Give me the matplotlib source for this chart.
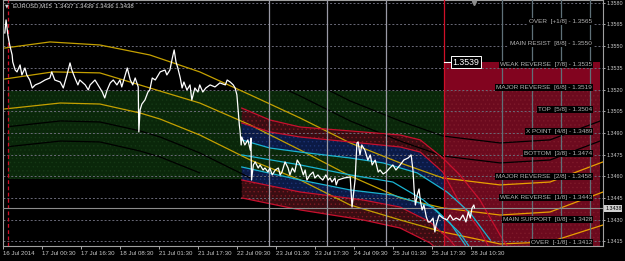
import numpy as np
import matplotlib
matplotlib.use('Agg')
import matplotlib.pyplot as plt
from matplotlib.transforms import blended_transform_factory, offset_copy

plt.rcParams['font.family'] = ['Liberation Sans', 'DejaVu Sans']
plt.rcParams['hatch.linewidth'] = 0.5

# ── data (x = M15 bar index from 16 Jul 08:30, y = price) ──────────
price_pts = [
    (3, 1.35591), (5, 1.35681), (8, 1.35577), (11, 1.35508), (15, 1.35439), (16, 1.35391),
    (20, 1.35335), (23, 1.35322), (28, 1.35370), (31, 1.35301), (36, 1.35349), (39, 1.35301),
    (44, 1.35266), (48, 1.35211), (53, 1.35232), (61, 1.35246), (69, 1.35266), (77, 1.35280),
    (80, 1.35322), (85, 1.35266), (94, 1.35252), (99, 1.35211), (105, 1.35301), (110, 1.35384),
    (113, 1.35335), (118, 1.35280), (123, 1.35232), (126, 1.35266), (135, 1.35232), (140, 1.35197),
    (143, 1.35232), (151, 1.35266), (156, 1.35232), (163, 1.35183), (167, 1.35142), (171, 1.35197),
    (176, 1.35246), (181, 1.35266), (187, 1.35232), (192, 1.35266), (195, 1.35218), (204, 1.35349),
    (209, 1.35266), (213, 1.35232), (217, 1.35280), (222, 1.35218), (223, 1.34907), (225, 1.35059),
    (228, 1.35100), (233, 1.35128), (238, 1.35183), (241, 1.35197), (245, 1.35280), (250, 1.35266),
    (255, 1.35301), (258, 1.35322), (266, 1.35335), (269, 1.35301), (274, 1.35335), (278, 1.35418),
    (281, 1.35474), (284, 1.35391), (287, 1.35349), (291, 1.35280), (294, 1.35211), (297, 1.35252),
    (302, 1.35197), (307, 1.35232), (310, 1.35128), (315, 1.35211), (320, 1.35183), (323, 1.35232),
    (328, 1.35183), (333, 1.35211), (340, 1.35232), (348, 1.35218), (356, 1.35246), (365, 1.35232),
    (368, 1.35266), (373, 1.35252), (378, 1.35232), (381, 1.35211), (384, 1.35163), (386, 1.35059),
    (388, 1.34955), (389, 1.34921), (391, 1.34817), (392, 1.34872), (397, 1.34817), (402, 1.34852),
    (406, 1.34782), (407, 1.34865), (408, 1.34575), (411, 1.34679), (414, 1.34700), (419, 1.34658),
    (422, 1.34679), (427, 1.34644), (430, 1.34658), (435, 1.34630), (438, 1.34658), (442, 1.34610),
    (447, 1.34644), (452, 1.34658), (455, 1.34610), (458, 1.34630), (463, 1.34700), (468, 1.34658),
    (471, 1.34610), (475, 1.34658), (479, 1.34630), (483, 1.34713), (488, 1.34679), (493, 1.34610),
    (496, 1.34644), (499, 1.34575), (504, 1.34610), (509, 1.34630), (512, 1.34589), (517, 1.34610),
    (521, 1.34589), (525, 1.34575), (530, 1.34610), (534, 1.34575), (537, 1.34589), (540, 1.34561),
    (545, 1.34589), (547, 1.34541), (550, 1.34575), (560, 1.34589), (570, 1.34596), (573, 1.34388),
    (578, 1.34575), (581, 1.34831), (583, 1.34838), (586, 1.34748), (589, 1.34817), (594, 1.34782),
    (599, 1.34713), (603, 1.34748), (606, 1.34679), (611, 1.34713), (616, 1.34630), (619, 1.34644),
    (624, 1.34617), (629, 1.34630), (635, 1.34658), (640, 1.34679), (645, 1.34644), (652, 1.34679),
    (658, 1.34713), (665, 1.34727), (670, 1.34748), (673, 1.34644), (675, 1.34506), (677, 1.34402),
    (680, 1.34471), (683, 1.34513), (685, 1.34437), (688, 1.34368), (691, 1.34402), (695, 1.34319),
    (698, 1.34285), (701, 1.34285), (706, 1.34312), (709, 1.34216), (711, 1.34264), (716, 1.34333),
    (722, 1.34312), (729, 1.34299), (734, 1.34333), (739, 1.34299), (744, 1.34312), (750, 1.34299),
    (755, 1.34333), (760, 1.34285), (764, 1.34354), (767, 1.34312), (770, 1.34382), (773, 1.34402),
    (774, 1.34382),
]

# polynomial regression channel (gold), projected part drawn orange
u1 = [(3, 1.35487), (77, 1.35529), (159, 1.35508), (241, 1.35439), (323, 1.35322), (406, 1.35163),
      (488, 1.35003), (570, 1.34831), (652, 1.34693), (722, 1.34589), (816, 1.34541), (898, 1.34561),
      (985, 1.34700)]
u2 = [(3, 1.35273), (82, 1.35322), (159, 1.35315), (241, 1.35211), (323, 1.35107), (406, 1.34955),
      (488, 1.34782), (570, 1.34603), (652, 1.34451), (722, 1.34382), (816, 1.34333), (898, 1.34354),
      (985, 1.34492)]
u3 = [(3, 1.35066), (94, 1.35107), (159, 1.35100), (225, 1.35038), (258, 1.34996), (323, 1.34886),
      (406, 1.34713), (488, 1.34575), (570, 1.34402), (652, 1.34299), (722, 1.34216), (816, 1.34133),
      (898, 1.34147), (985, 1.34264)]
# black channel lines (only seen on the coloured zones)
k1 = [(406, 1.35315), (488, 1.35155), (570, 1.34983), (652, 1.34844), (722, 1.34741), (816, 1.34693),
      (898, 1.34713), (985, 1.34852)]
k2 = [(488, 1.35294), (570, 1.35121), (652, 1.34983), (722, 1.34879), (816, 1.34831), (898, 1.34852),
      (985, 1.34990)]
k3 = [(3, 1.34941), (94, 1.34983), (159, 1.34976), (225, 1.34914), (258, 1.34872), (323, 1.34762),
      (406, 1.34589)]
k4 = [(3, 1.34803), (94, 1.34844), (159, 1.34838), (225, 1.34775), (258, 1.34734), (323, 1.34624)]

# band system after the 22 Jul drop
r1 = [(392, 1.35072), (438, 1.34990), (488, 1.34941), (570, 1.34914), (652, 1.34886), (685, 1.34852),
      (722, 1.34727), (750, 1.34610), (783, 1.34437), (816, 1.34195), (832, 1.34091)]
r2 = [(392, 1.34969), (438, 1.34907), (488, 1.34872), (570, 1.34838), (652, 1.34803), (685, 1.34768),
      (722, 1.34630), (747, 1.34437), (783, 1.34229), (800, 1.34091)]
c1 = [(392, 1.34852), (438, 1.34796), (488, 1.34768), (570, 1.34727), (624, 1.34693), (680, 1.34624),
      (729, 1.34492), (767, 1.34347), (800, 1.34160)]
cm = [(392, 1.34748), (488, 1.34679), (570, 1.34610), (640, 1.34561), (690, 1.34437), (734, 1.34278),
      (759, 1.34126)]
c2 = [(392, 1.34665), (488, 1.34575), (570, 1.34506), (640, 1.34471), (706, 1.34388), (750, 1.34209),
      (767, 1.34105)]
r3 = [(392, 1.34575), (488, 1.34492), (591, 1.34437), (652, 1.34388), (701, 1.34285), (734, 1.34160),
      (747, 1.34091)]
r4 = [(392, 1.34451), (488, 1.34368), (591, 1.34299), (652, 1.34243), (701, 1.34140), (718, 1.34077)]

# Murrey math levels
mm_names = ["OVER  [+1/8]", "MAIN RESIST  [8/8]", "WEAK REVERSE  [7/8]", "MAJOR REVERSE  [6/8]",
            "TOP  [5/8]", "X POINT  [4/8]", "BOTTOM  [3/8]", "MAJOR REVERSE  [2/8]",
            "WEAK REVERSE  [1/8]", "MAIN SUPPORT  [0/8]", "OVER  [-1/8]"]
mm_levels = [1.3565, 1.3550, 1.3535, 1.3519, 1.3504, 1.3489, 1.3474, 1.3458, 1.3443, 1.3428, 1.3412]

y_ticks = [1.3415 + 0.0015 * i for i in range(12)]
x_ticks = [0, 64, 128, 192, 256, 320, 384, 448, 512, 576, 640, 704, 768]
x_labels = ["16 Jul 2014", "17 Jul 00:30", "17 Jul 16:30", "18 Jul 08:30", "21 Jul 01:30",
            "21 Jul 17:30", "22 Jul 09:30", "23 Jul 01:30", "23 Jul 17:30", "24 Jul 09:30",
            "25 Jul 01:30", "25 Jul 17:30", "28 Jul 10:30"]

gray_vlines = [437, 532, 629]
slate_vlines = [819, 869, 916, 964]
now_bar = 724
start_bar = 8
last_price = 1.3438
zone_top = 1.3539
green_zone = (1.3458, 1.3519)
ohlc = "EURUSD,M15  1.3437 1.3439 1.3436 1.3438"


def xy(pts):
    a = np.array(pts)
    return a[:, 0], a[:, 1]


# ── figure ─────────────────────────────────────────────────
fig = plt.figure(figsize=(6.25, 2.61), dpi=100, facecolor='black')
ax = fig.add_axes([3 / 625, 15 / 261, 600 / 625, 246 / 261])
ax.set_facecolor('black')
ax.set_xlim(0, 985)
ax.set_ylim(1.341189, 1.358188)

# zones
ax.fill_between([start_bar, now_bar], green_zone[0], green_zone[1], color='#0a270a',
                hatch='....', edgecolor='#153815', lw=0, zorder=0.5)
ax.fill_between([now_bar, 980], 1.3400, zone_top, color='#6c0a1e',
                hatch='....', edgecolor='#7e1a2a', lw=0, zorder=1.5)
ax.fill_between([now_bar, 980], mm_levels[3], zone_top, color='#82041f', lw=0, zorder=1.6)


def band(a, b, fc, hc):
    xa, ya = xy(a)
    xb, yb = xy(b)
    ax.fill(np.r_[xa, xb[::-1]], np.r_[ya, yb[::-1]], facecolor=fc, hatch='....',
            edgecolor=hc, lw=0, zorder=1)


band(r1, r2, '#3a0d12', '#7a1a22')
band(r2, c1, '#0b1a46', '#1c3272')
band(c2, r3, '#0b1a46', '#1c3272')
band(r3, r4, '#3a0d12', '#7a1a22')

# grid
for yv in y_ticks:
    ax.axhline(yv, color='#6a6a78', lw=0.7, ls=(0, (2, 2)), zorder=2.5)

# channel lines
for k in (k1, k2, k3, k4):
    ax.plot(*xy(k), color='#000000', lw=0.9, zorder=2)
for u in (u1, u2, u3):
    xs, ys = xy(u)
    past = xs <= now_bar
    ax.plot(xs[past], ys[past], color='#c4a000', lw=0.9, zorder=3)
    fut = xs >= 722
    ax.plot(xs[fut], ys[fut], color='#e8a000', lw=0.9, zorder=3)
for r in (r1, r2, r3, r4):
    ax.plot(*xy(r), color='#c8102e', lw=0.9, zorder=3)
for c in (c1, cm, c2):
    ax.plot(*xy(c), color='#1ab4d2', lw=0.9, zorder=3)

# vertical lines
for b in gray_vlines:
    ax.axvline(b, color='#9a9aa6', lw=0.9, zorder=3.2)
for b in slate_vlines:
    ax.axvline(b, color='#5f7078', lw=0.9, zorder=3.2)
ax.axvline(now_bar, color='#d01028', lw=0.9, zorder=3.3)
ax.axvline(start_bar, color='#d01028', lw=0.9, ls=(0, (3, 2)), zorder=3.3)
ax.axhline(last_price, color='#8c8c8c', lw=0.8, zorder=3.4)

# price
px, py = xy(price_pts)
ax.plot(px, py, color='white', lw=0.9, zorder=4)

# Murrey labels
lbl_tr = offset_copy(ax.transData, fig=fig, x=0, y=2.2, units='points')
for name, lv in zip(mm_names, mm_levels):
    ax.text(967, lv, f"{name} - {lv:.4f}", transform=lbl_tr, ha='right', va='center',
            fontsize=4.6, color='#b4b4b4', zorder=6,
            bbox=dict(boxstyle='square,pad=0.15', fc='black', ec='none'))

# 1.3539 price tag
ax.plot([now_bar, 736], [zone_top, zone_top], color='white', lw=0.8, zorder=6)
ax.text(738, zone_top, f"{zone_top:.4f}", ha='left', va='center', fontsize=6.3, color='white',
        zorder=7, bbox=dict(boxstyle='square,pad=0.2', fc='black', ec='white', lw=0.7))

# shift marker
ax.plot([774], [1.35795], marker='v', color='#8c8c8c', ms=3, zorder=7, clip_on=False)

# title
ax.text(0.003, 0.975, "▼", transform=ax.transAxes, fontsize=3.5, color='#d0d0d0',
        family='DejaVu Sans', va='center', ha='left', zorder=8)
ax.text(0.016, 0.975, ohlc, transform=ax.transAxes, fontsize=4.3, color='#d8d8d8',
        va='center', ha='left', zorder=8)

# axes
ax.yaxis.tick_right()
ax.set_yticks(y_ticks)
ax.set_yticklabels([f"{v:.4f}" for v in y_ticks])
ax.set_xticks(x_ticks)
ax.set_xticklabels(x_labels)
for lab in ax.get_xticklabels():
    lab.set_horizontalalignment('left')
ax.tick_params(axis='y', length=1.5, pad=0.8, labelsize=3.9, colors='#c8c8c8', width=0.6)
ax.tick_params(axis='x', length=2, pad=1.5, labelsize=4.4, colors='#c8c8c8', width=0.6)
for s in ax.spines.values():
    s.set_color('#a0a0a0')
    s.set_linewidth(0.8)

tr = blended_transform_factory(ax.transAxes, ax.transData)
ax.text(1.0035, last_price, f"{last_price:.4f}", transform=tr, ha='left', va='center',
        fontsize=3.9, color='black', zorder=8,
        bbox=dict(boxstyle='square,pad=0.15', fc='#d0d0d0', ec='none'))

fig.savefig('out.png', dpi=100, facecolor='black')
